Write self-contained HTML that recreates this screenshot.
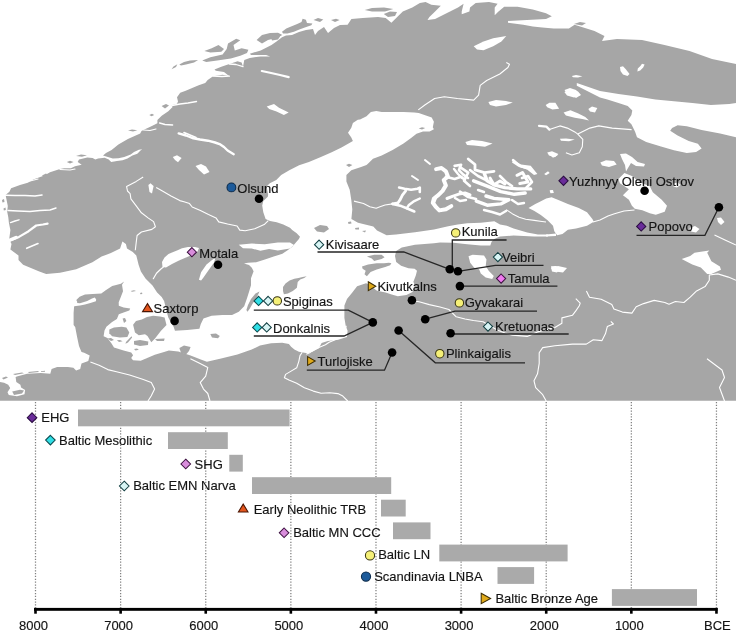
<!DOCTYPE html><html><head><meta charset="utf-8"><style>html,body{margin:0;padding:0;background:#fff;}body{width:736px;height:630px;overflow:hidden;}svg{display:block;font-family:"Liberation Sans",Arial,sans-serif;}</style></head><body>
<svg width="736" height="630" viewBox="0 0 736 630">
<rect x="0" y="0" width="736" height="400.75" fill="#a6a6a6"/>
<polygon points="0,0 736,0 736,64 712,59 689.5,51 664.5,45 642,40 617,39 602,41 604.5,36 594.5,31 574.6,24.7 568.9,28.5 553.7,28.5 542.3,27.6 532.8,26.6 523.3,24.7 508,22.8 508,20.9 527,20 546,19 551.8,16.2 546,13.3 532.8,9.5 517.6,6.7 504.2,6.7 498.5,11.4 494.7,15.2 494.7,7.6 497.6,3.8 489,1.9 475.7,2.9 470,7.6 469.4,11.4 461.7,14.3 461.7,11.4 463.6,3.8 458,7.6 446.5,13.3 435.1,19 427.5,20 429.4,17.1 435.1,11.4 440.8,5.7 431.3,4.8 425.6,1.9 419.9,2.9 412.3,7.6 402.8,11.4 395.2,19 391.4,22.8 385.7,18 378,17 362.8,18 351.4,19 347.6,24.7 340,25 334,28 328,33 324,27 318,31 315,35 313,29 306,30 299,32 292,35 286,35.5 282,37.2 276.5,41.5 271.5,44.9 260.7,50.4 249.8,53.8 251.1,55.1 266.1,55.1 270.2,56.5 260.7,56.5 249.8,57.9 244.3,59.9 243,66.7 241.6,62.6 237.6,61.3 229.4,64 221.3,66.7 214.5,69.4 215.8,70.8 224,72.1 229.4,76.2 222.6,74.8 213.1,76.2 207.7,80 205.2,83 198.7,85.2 191,88.5 185.7,90.7 180.2,92.8 177,97.2 178,101.5 177,103.7 171.5,105.3 172.6,107 168.3,111.3 161.7,115.7 157.4,120 157.4,123.3 150.9,126.5 143.3,130 141.5,130.9 140.2,133.6 127.9,139 118.4,144.5 111.6,149.9 106,153 103,155.4 107.9,157 112.8,158.6 118.5,158.2 124.2,157 130.7,154.6 134,152.1 138.9,149.7 142.2,149.3 140.5,150.5 137.3,153.7 132.4,155.4 127.5,158.6 122.6,160.3 116.9,161.1 111.2,161.9 108.7,159.4 104.7,157.8 98.1,158.6 95.3,159.4 92.6,158 87.2,157.4 79,159.4 77.7,162.1 81.7,164.8 75,166.2 70.9,168.2 64.1,168.2 60,168.9 50,172.2 44.4,175.6 33.3,179.4 27.8,182.8 20,185 11.1,188.3 9.4,191.7 5.6,195 6.7,200.6 7.8,206.1 7.2,211.7 8.3,217.2 8.9,222.8 10,228.3 10.4,230 9.2,239.2 11.5,243.9 10.4,249.6 18.5,255.4 18.5,260 23.1,264.7 39.3,271.6 46.2,273.9 60,272.7 76.2,269.3 92.4,262.3 101.6,256.6 110.9,253.1 120.1,248.5 122.4,241.5 125.9,243.9 127,248.5 132.8,251.9 136.3,255.4 138.6,264.7 140.9,271.6 145.5,278.5 152.5,285.4 157.1,292.4 161.7,297 164.1,300.9 168.2,317.2 170.9,322.6 173.6,326.7 175,330.8 187.2,330.1 199.4,328.7 200.8,324 203.5,318.5 211.6,315.8 222.5,315.1 232,315.1 238.8,311.7 244.2,306.3 247,298.2 249.2,291.3 251,285.2 251,278.2 253.6,271.2 251.8,267.7 249,265 244,263.5 248,262.8 256.2,262.3 264.9,259.5 273.7,256.6 282.4,253.8 287.6,250.2 292.2,246.7 298.9,238.9 300,236.7 296.7,233.3 292.2,230 290,227.8 283.3,224.4 276.7,222.2 270,221.1 265.6,218.9 263.3,212.2 262.2,205.6 263.3,201.1 267.8,196.7 268.2,194.7 266.5,186.5 269.8,183.3 276.3,180 281.2,175.1 289.3,170.2 299.1,165.3 308.9,162.1 320.3,157.2 331.7,152.3 341.5,147.4 352.9,140.9 351.3,137.6 348,132.7 351.3,127.8 352.9,122.9 357.8,119.7 360,119.6 366.5,116.3 370.9,112 376.3,110.9 381.7,112 392.6,112 403.5,112 414.3,112.5 418.7,113 425.2,115.2 431.7,117.4 433.9,121.7 432.8,127.2 433.9,129.3 429.6,131.5 423,131.5 416.5,133.7 411.1,138 403.5,143.5 392.6,150 381.7,155.4 373,158.7 368.7,163 366.5,165 361.1,167 351.3,170.2 346.4,175.1 346.4,181.6 349.7,189.8 351.3,200 352.3,209.5 351.4,219 358,222.8 373.3,226.6 377,230.4 386.6,235.2 396,234.4 415,232.3 434,229.4 448.2,226.3 457.7,224.6 467.2,223.3 480.8,222.7 494.3,221.3 500,224.4 506.8,225.8 513.6,228.5 527.2,232.6 538,234.4 548,234.6 548,236.4 534,236.5 513.6,235.5 500,236.6 494.3,239 491.6,241.7 490.3,245.5 480.8,245.5 467.2,244.3 453.6,242.8 440,242.6 434,243.2 415,244.7 401.8,247.6 396.2,251.1 395,256 396.2,262.1 401.1,265.8 408.5,268.2 414.6,268.8 417,270.7 415.8,275.6 413.4,281.7 415,285.9 412.5,292 406.4,295 397.8,296.3 391.7,294.5 385.6,292.6 377,290.8 368,284 366,283.2 357.1,286.3 352.1,292.7 347,299 344.4,305.4 344.4,318.1 345.7,325.7 347.6,330.8 347,337.1 338.1,339.7 327.9,341 321.6,343 318.9,348.3 312.2,351.7 307.8,353.3 304.4,352.8 298.9,351.7 294.4,349.4 291.1,346.7 288.9,343.9 282.2,342.8 271.1,343.3 260,345.6 251.7,349.5 237.4,354.5 221.1,358.6 206.9,361.7 200.8,359.6 190.6,355.6 178.3,351.5 168.9,350.4 162.4,352.6 154.8,354.8 147.2,358 140.7,360.8 133,360.2 131.2,358 133.1,355.2 131.2,352.4 123.6,350.5 114,347.6 111.2,342.9 107.4,338.1 103.6,336.2 104.5,330.5 106.4,326.7 112.1,321.9 116.9,319 118.8,314.3 123.6,312.4 129.3,310.5 130.2,308.6 123.6,307.6 118.8,305.7 118.7,302.2 120.9,296.7 123,291.3 122,284.8 124.1,281.5 120.9,283.7 112.2,285.9 105.7,290.2 101.3,293.5 92.6,294 85,294.6 79.6,296.7 76.3,300 77.4,302.2 74.1,306.5 73.6,313 73.6,325 75.2,327 77,336.6 79,346 81.5,352 84.2,352.7 89.7,355.4 88.3,360.9 81.5,363.6 80.2,369 76.1,370.4 73.4,367.7 67.9,367 57.1,367 51.6,369 50.3,373.8 40.8,373.1 27.2,373.8 17.7,376.3 15.6,377 16.3,382 20.4,384.7 21.1,387.4 25.1,390.1 24.5,394.2 17,396.2 8.8,394.9 7.5,392.2 10.2,388.1 8.2,384.7 4.1,382.7 0,382" fill="#fff"/>
<polygon points="736,103.1 729.3,104 710.9,104.9 692.4,103.1 673.9,101.2 655.4,99.4 637,96.6 618.5,93.9 600,91.1 576.8,83.1 576.8,85.8 600,97.6 607.4,99.4 618.5,103.1 627.7,105.9 632.3,110.5 631.4,115.1 627.7,120.7 631.4,124.3 635.1,131.7 637,137.3 646.2,141.9 661,146.5 673.9,150.2 686.8,153 696.1,152.1 701.6,148.4 697.9,143.7 688.7,141 677.6,135.4 670.2,130.8 672.1,128 677.6,125.3 686.8,126.2 701.6,129.9 720.1,133.6 736,137.3" fill="#fff"/>
<polygon points="109.3,329.5 114,327.6 121.7,326.7 126.4,327.6 129.3,332.4 127.4,337.1 119.8,337.6 112.1,336.2 109.3,333.3" fill="#a6a6a6"/>
<polygon points="122.6,318.5 125,318 126.4,321 124,322.9" fill="#a6a6a6"/>
<polygon points="107.4,338.6 111,338.1 114,340 111,341" fill="#a6a6a6"/>
<polygon points="116.9,340.3 120,340 122.6,341.2 119,341.9" fill="#a6a6a6"/>
<polygon points="131.5,336.2 132.1,337.5 128,342.5 125.5,343.8 126,342" fill="#a6a6a6"/>
<polygon points="134,349 137,348.6 138.8,349.8 135.5,350.5" fill="#a6a6a6"/>
<polygon points="133.1,324.8 136,321 141.8,319.5 147,317 153.2,315.7 160,316.5 164.6,317.6 166.5,325 160.8,331 155,338.5 151.3,342.3 147.5,336 145,334.3 138.8,335.2 135,332.4" fill="#a6a6a6"/>
<polygon points="134,341 140,340 148.3,341.5 148,345 140,346 134,344.5" fill="#a6a6a6"/>
<polygon points="155,339 164.6,338.5 164,341 157,341" fill="#a6a6a6"/>
<polygon points="210.3,334 216,333.5 219.8,336 218,338.2 212,337.5" fill="#a6a6a6"/>
<polygon points="283,286.9 285.5,283.6 289.6,280.4 294.4,278.7 298.5,277.9 302.6,277.1 306.7,276.3 304.2,277.9 300.2,279.6 297.7,282 296.9,287.7 292.8,291 287.9,293.4 283.9,294.2 283,291" fill="#a6a6a6"/>
<polygon points="259.5,291.5 257,297 253,303 249.5,309 247.5,311.7 246.4,310 248,305 251,299 255.5,293.5" fill="#a6a6a6"/>
<polygon points="362,266.4 368.1,264.6 376.7,263.3 384,263.3 388.9,262.7 391.4,263.3 390.1,265.2 385.2,267 376.7,269.5 370.6,271.9 366.9,276.2 364.5,274.3 365.7,270.7 362.6,268.8" fill="#a6a6a6"/>
<polygon points="366.9,256.6 374.2,254.8 381.6,254.8 384.6,257.2 381.6,259.1 376.7,260.3 374.2,260.9 371.8,258.5" fill="#a6a6a6"/>
<polygon points="179.4,348 184,345.4 190.6,347 189,351 186,354.5 181,353" fill="#a6a6a6"/>
<polygon points="314,228 320,225 327,226 329,229 324,232.5 317,231.5" fill="#a6a6a6"/>
<polygon points="12.2,391.5 20,389.8 24,390.5 22,393.5 14,395" fill="#a6a6a6"/>
<polygon points="130.7,291 134,290.2 136,291 132,291.8" fill="#a6a6a6"/>
<polygon points="162,262 164.5,257.5 168.5,254 172,252.5 177,250.5 182,248.3 188,247 195,247 199,248 197.5,251.5 193,254.5 186,257.5 179,260.5 172,264 166,267.5 162.5,267" fill="#fff"/>
<polygon points="198.9,279.8 201.1,272.2 206.5,264.6 213,259.2 215.2,258.6 214.1,262.4 208.7,270 203.3,277.7 201.1,280.4" fill="#fff"/>
<polygon points="238.7,244.8 251.7,243.5 264.8,244.3 277.8,242.4 290,242.4 294,245 290,248.6 277.8,250.5 269.1,249 260.4,250.8 251.7,248.5 243,248.3" fill="#fff"/>
<polygon points="528.5,208.1 535.3,204 539.4,202 546.2,198.6 551.6,197.2 558.4,200 567.9,204 578.8,208.1 587,212.2 592.4,219 593.8,221.7 587,225.8 576.1,228.5 567.9,229.8 562.5,233.9 557.1,235.3 554.3,231.2 553,225.8 547.6,220.3 540.8,214.9 534,210.8" fill="#fff"/>
<polygon points="546,234.6 556,233.5 556,236 546,236.4" fill="#fff"/>
<polygon points="624.4,172.9 631.9,175.9 639.3,181.9 649.8,186.3 652.8,192.3 661.7,199.8 667,205.8 664.7,211.7 655.8,214.7 649.8,213.2 642.3,210.3 634.8,208.8 631.9,205.8 628.9,199.8 622.9,195.3 625.9,192.3 628.9,189.3 619.9,183.3 618.4,178.9" fill="#fff"/>
<polygon points="468.5,256.3 472.6,254.7 484,255.5 486.5,259.6 485.7,266.1 488.9,271 493.8,275.9 492.2,279.1 485.7,277.5 480.8,273.4 479.1,269.3 474.2,267.7 470.2,262.8" fill="#fff"/>
<polygon points="473.7,46.3 483.5,41.4 493.2,38.2 506.3,35.9 501.4,41.4 493.2,46.3 483.5,50.2 477,49.6" fill="#fff"/>
<polygon points="202.2,60.6 210.4,57.2 222.6,54.5 226.7,49 228,43.6 236.2,38.8 240.3,40.2 233.5,45 234.8,50.4 241.6,48.3 248.4,49.7 247,53.1 240.3,55.8 230.8,58.5 217.2,60.6 206.3,62" fill="#a6a6a6"/>
<polygon points="204.3,51.1 211.7,48.3 218.5,45 224,49 221.3,51.7 210.4,52.4" fill="#a6a6a6"/>
<polygon points="171.6,69.2 173.5,66.5 177.3,64.3 176,67" fill="#a6a6a6"/>
<polygon points="179.3,64.5 184,62 190,60.5 198.1,60 194,62.5 186,64.5 181,65.5" fill="#a6a6a6"/>
<polygon points="256.6,40 262,35 270,33 278,32.7 282.4,35 276,38 268,40 262,43.6" fill="#a6a6a6"/>
<polygon points="282,31.7 286.3,28.5 291.7,26.3 297.2,24.1 301.5,22 302.6,18.7 305.9,19.8 307,23 312.4,23.6 311.3,25.2 304.8,27.4 299.3,29.6 293.9,31.7 287.4,33.4 283,33.4" fill="#a6a6a6"/>
<polygon points="313.5,20 318,18 323.3,19.5 320,22" fill="#a6a6a6"/>
<polygon points="331,20 336,18.7 339.6,20 335,22" fill="#a6a6a6"/>
<polygon points="364.7,10 372,8 384,7.6 393.3,9 385,11.4 372,11.4" fill="#a6a6a6"/>
<polygon points="383.8,14 390,11.5 397,12 395,16 388,17" fill="#a6a6a6"/>
<polygon points="270,35 276,33 281,35 278,39.5 272,40.4" fill="#a6a6a6"/>
<polygon points="574,24 580,22 586,23 582,25.5" fill="#a6a6a6"/>
<polygon points="161.6,106 166,104 169,105.5 165,108.5" fill="#a6a6a6"/>
<polygon points="149.3,115 152,113.8 154.2,115 151.5,116.2" fill="#a6a6a6"/>
<polygon points="128,130.5 132,129.5 137.4,130.3 133,131.5" fill="#a6a6a6"/>
<polygon points="76,156 81,154.6 87,155.2 82,156.7" fill="#a6a6a6"/>
<polygon points="66.8,162 70,160.8 73.6,162 70,163.5" fill="#a6a6a6"/>
<polygon points="42,175.5 46,173.5 48,175 44,177" fill="#a6a6a6"/>
<polygon points="3.5,208.5 5.5,207.5 5.8,210 3.8,210.5" fill="#a6a6a6"/>
<polygon points="2,200 4,199 4.5,202 2.5,202.5" fill="#a6a6a6"/>
<polygon points="2,378 6,376.5 8,377.5 3.5,379.5" fill="#a6a6a6"/>
<polygon points="13,374 22,372.5 24,373.3 15,375" fill="#a6a6a6"/>
<polygon points="28,372 38,371 39,372 29,373" fill="#a6a6a6"/>
<polygon points="41,371.3 45,370.8 45,371.8 41,372" fill="#a6a6a6"/>
<polygon points="346,165 349,163.8 352.4,165 349,167" fill="#a6a6a6"/>
<polygon points="348,222 351,221.5 351.5,223.5 348.5,224" fill="#a6a6a6"/>
<polygon points="355,228 359,227.5 359,229.5 355.5,229.5" fill="#a6a6a6"/>
<polygon points="362,231 366,230.5 365,232.5" fill="#a6a6a6"/>
<polygon points="418.7,128.5 422,127.2 425.2,128 422,129.5" fill="#a6a6a6"/>
<polygon points="140,293 142,292.5 142.3,294 140.5,294.2" fill="#a6a6a6"/>
<polygon points="74,302.8 80,303.3 87.2,301.1 92,298.5 94.8,297.6 96.2,299.5 95.9,301.3 90.4,302.9 85,304.5 80,305.4 74,306.2" fill="#fff"/>
<polygon points="266.7,106.5 274,104 279,107.7 288.7,112.6 283.9,115 276.5,111.4 269.2,108.9" fill="#fff"/>
<polygon points="172.8,157 177,155.2 181.6,158 178,162.2 175,160" fill="#fff"/>
<polygon points="195.5,166 201,164 206,166.5 209.5,172 204,174.4 199,170" fill="#fff"/>
<polygon points="148.4,185 150.5,183.2 153.6,186 152,193.6 149.5,192" fill="#fff"/>
<polygon points="545.7,105 549.4,102.7 555.4,102.7 559.1,108.7 552.4,109.4 547.2,107.2" fill="#fff"/>
<polygon points="563.6,112.4 570.4,110.2 577.8,113.2 585.3,116.9 589,120.6 582.3,119.1 574.8,117.7 565.9,115.4" fill="#fff"/>
<polygon points="588.3,109 592,106.4 597.3,108 595,112.4 590,111.5" fill="#fff"/>
<polygon points="564.4,92 570,90 578,91.5 580.8,95 574,97.5 567,95.5" fill="#fff"/>
<polygon points="547.2,152.5 552,151.3 558.4,154 555,157.3 549,155.5" fill="#fff"/>
<polygon points="600.3,162.5 606,160.3 614,161 616.7,164.5 609,167 602,165.5" fill="#fff"/>
<polygon points="513,160.4 521.1,164.5 530.7,165.8 537.4,174 534,175 527,169.5 518,166.5 512,162.5" fill="#fff"/>
<polygon points="544.2,174 548,171.3 549.7,173 546,175.3" fill="#fff"/>
<polygon points="465.4,142 472,140 482,141 492.6,143.5 485,146.8 474,145.5 467,145" fill="#fff"/>
<polygon points="548.3,153.5 552,152.2 557.8,155 553,157.7" fill="#fff"/>
<polygon points="549.7,191 552,190.3 553.7,192.5 551,193" fill="#fff"/>
<polygon points="559.9,138.8 566,138.5 574.8,139.6 569,141.2 561,140.8" fill="#fff"/>
<polygon points="488.4,102 496,100.1 506,101 512.8,102.5 506,105 496,106.6 490,105" fill="#fff"/>
<polygon points="673,183.5 678,182.5 680.5,185 677,187.5 673.5,186.5" fill="#fff"/>
<polygon points="620,67 623,66.3 626,69.5 629.5,74 627.5,76 623,74.5 620.5,71" fill="#fff"/>
<polygon points="642,63.8 644.6,64.4 643.2,67.5 640.2,70.6 637.4,71.4 637.8,68.6 640.4,66" fill="#fff"/>
<polygon points="571.8,76 576,75.1 582.4,76.3 578,77.5 573,77.3" fill="#fff"/>
<polygon points="564.5,90 570,88.1 576,90 580.8,95 576,97.9 570,94 566,92.5" fill="#fff"/>
<polygon points="620,154 626,153.5 632,157 637.6,162 645,164 644,166.5 636,166 631,163 628,168 626,171.4 625,165 622,159" fill="#fff"/>
<polygon points="681.7,259.1 686,261.2 692.3,264.4 700.8,267.6 707.2,273.9 711.4,273.9 721,269.7 719.9,266.5 711.4,261.2 707.2,252.7 709.3,250.6 700.8,251.7 694.5,252.7 690.2,255.9" fill="#fff"/>
<polygon points="552,268 558,266 567,268 563,272.5 555,271.5" fill="#fff"/>
<polygon points="717,218 721,217.5 724.5,222 721,225 718,222" fill="#fff"/>
<polygon points="689.5,228 695,226 699.5,229 696,232.5 691,231.5" fill="#fff"/>
<polygon points="551,268 555,266.5 560,267.5 559,271 553,271" fill="#fff"/>
<polygon points="549.7,190.3 553,190 553.7,193 550.5,193.2" fill="#fff"/>
<polygon points="551,266.3 556,266 560,268 557,272.6 552,271.5" fill="#fff"/>
<polyline points="261.8,71 270,72.8 280,75 288.7,77.1" fill="none" stroke="#fff" stroke-width="2.2" stroke-linejoin="round" stroke-linecap="round"/>
<polyline points="178.7,133.4 186,135.5 193.4,138.3 200,139.5 208,140.7 215,142.5 220.3,144.4 224,147 227.6,150.5 233.7,154.2" fill="none" stroke="#fff" stroke-width="2.4" stroke-linejoin="round" stroke-linecap="round"/>
<polyline points="184,132.5 190,135 196,137.5" fill="none" stroke="#fff" stroke-width="1.6" stroke-linejoin="round" stroke-linecap="round"/>
<polyline points="5.6,195.3 15,195.5 25,195.5 35,196 42,195" fill="none" stroke="#fff" stroke-width="1.6" stroke-linejoin="round" stroke-linecap="round"/>
<polyline points="8,210.5 18,211 30,211.5 40,210.5 50,210 56,208" fill="none" stroke="#fff" stroke-width="1.4" stroke-linejoin="round" stroke-linecap="round"/>
<polyline points="10.5,222.6 15,221 19,219.8" fill="none" stroke="#fff" stroke-width="1.4" stroke-linejoin="round" stroke-linecap="round"/>
<polyline points="9.5,240.7 19,236.9 28.6,231.2 36.2,225.5 42.9,224.5 47.6,223.6" fill="none" stroke="#fff" stroke-width="2.2" stroke-linejoin="round" stroke-linecap="round"/>
<polyline points="10,240 16,237.5" fill="none" stroke="#fff" stroke-width="3.5" stroke-linejoin="round" stroke-linecap="round"/>
<polyline points="26.7,248.3 32,246 38,243.6" fill="none" stroke="#fff" stroke-width="1.6" stroke-linejoin="round" stroke-linecap="round"/>
<polyline points="172,105.5 180,104 188,103 196.5,101.5" fill="none" stroke="#fff" stroke-width="1.4" stroke-linejoin="round" stroke-linecap="round"/>
<polyline points="159.6,123 165,124.5 172.6,125" fill="none" stroke="#fff" stroke-width="1.4" stroke-linejoin="round" stroke-linecap="round"/>
<polyline points="22,180.5 30,181 38,179" fill="none" stroke="#fff" stroke-width="1.2" stroke-linejoin="round" stroke-linecap="round"/>
<polyline points="60,169.5 70,170 75,169" fill="none" stroke="#fff" stroke-width="1.2" stroke-linejoin="round" stroke-linecap="round"/>
<polyline points="229.4,64 236,64.5 243,66.7" fill="none" stroke="#fff" stroke-width="1.3" stroke-linejoin="round" stroke-linecap="round"/>
<polyline points="213.1,76.2 222,76.5 229.4,76.2" fill="none" stroke="#fff" stroke-width="1.3" stroke-linejoin="round" stroke-linecap="round"/>
<polyline points="143.3,130 150,130.5 156,129" fill="none" stroke="#fff" stroke-width="1.2" stroke-linejoin="round" stroke-linecap="round"/>
<polyline points="166.3,264.6 160.9,269 156.5,273.3 153.3,278.7" fill="none" stroke="#fff" stroke-width="1.2" stroke-linejoin="round" stroke-linecap="round"/>
<polyline points="399.1,187.6 404.6,188.7 411.1,189.8 417.6,188.7 419.8,187.6 419.8,192" fill="none" stroke="#fff" stroke-width="2.6" stroke-linejoin="round" stroke-linecap="round"/>
<polyline points="405.7,190.9 402.4,195.2 400.2,199.6 398,202.8 392.6,203.9" fill="none" stroke="#fff" stroke-width="2.8" stroke-linejoin="round" stroke-linecap="round"/>
<polyline points="392.6,203.9 401.3,206.1 406.7,208.3 414.3,211.5" fill="none" stroke="#fff" stroke-width="2.6" stroke-linejoin="round" stroke-linecap="round"/>
<polyline points="419.8,198.5 413.3,201.7 408.9,205 406.7,208.3" fill="none" stroke="#fff" stroke-width="2.4" stroke-linejoin="round" stroke-linecap="round"/>
<polyline points="436.1,169.1 441.5,168 445.9,171.3 448,176.7 443.7,180 445.9,185.4 442.6,190.9 438.3,195.2 433.9,198.5 432.8,202.8 436.1,207.2 439.3,210.4 445.9,209.3 451.3,206.1" fill="none" stroke="#fff" stroke-width="4.0" stroke-linejoin="round" stroke-linecap="round"/>
<polyline points="436,197 434,202" fill="none" stroke="#fff" stroke-width="3.0" stroke-linejoin="round" stroke-linecap="round"/>
<polyline points="445.9,176.7 454.6,178.9 461.1,176.7 465,180" fill="none" stroke="#fff" stroke-width="2.6" stroke-linejoin="round" stroke-linecap="round"/>
<polyline points="454.6,165.9 461.1,164.8 458.9,170.2 463.3,174.6 468,178" fill="none" stroke="#fff" stroke-width="2.6" stroke-linejoin="round" stroke-linecap="round"/>
<polyline points="447,198.5 452.4,196.3 458.9,194.1 465,193 470,195" fill="none" stroke="#fff" stroke-width="3.0" stroke-linejoin="round" stroke-linecap="round"/>
<polyline points="468.2,159 475,164.5 475,169.9 484.5,172.6 494,171.3" fill="none" stroke="#fff" stroke-width="2.8" stroke-linejoin="round" stroke-linecap="round"/>
<polyline points="484.5,174 487.2,180.8 494,184.8 504.8,187.6 517,188.9 530.7,188.9" fill="none" stroke="#fff" stroke-width="3.4" stroke-linejoin="round" stroke-linecap="round"/>
<polyline points="473.6,180.8 487.2,186.2 500.8,191.6 514.3,194.3 525.2,193" fill="none" stroke="#fff" stroke-width="3.4" stroke-linejoin="round" stroke-linecap="round"/>
<polyline points="490,178 494,184.8 500,181 505,184" fill="none" stroke="#fff" stroke-width="3.0" stroke-linejoin="round" stroke-linecap="round"/>
<polyline points="517,175.3 522.5,172.6 528,182.1 519.8,183.5" fill="none" stroke="#fff" stroke-width="3.0" stroke-linejoin="round" stroke-linecap="round"/>
<polyline points="476.3,201.1 487.2,205.2 500.8,203.9 508.9,199.8 494,198.4 486,196" fill="none" stroke="#fff" stroke-width="3.4" stroke-linejoin="round" stroke-linecap="round"/>
<polyline points="460,191.6 468.2,197.1 476,199" fill="none" stroke="#fff" stroke-width="2.6" stroke-linejoin="round" stroke-linecap="round"/>
<polyline points="460,167.2 468.2,172.6 464,180.8 470,186" fill="none" stroke="#fff" stroke-width="2.6" stroke-linejoin="round" stroke-linecap="round"/>
<polyline points="484,210 492,212 500,214.5 506,211" fill="none" stroke="#fff" stroke-width="2.4" stroke-linejoin="round" stroke-linecap="round"/>
<polyline points="478,190 484,192" fill="none" stroke="#fff" stroke-width="2.4" stroke-linejoin="round" stroke-linecap="round"/>
<polyline points="512,200 518,204 524,203" fill="none" stroke="#fff" stroke-width="2.4" stroke-linejoin="round" stroke-linecap="round"/>
<polyline points="425,160 430,164" fill="none" stroke="#fff" stroke-width="2.0" stroke-linejoin="round" stroke-linecap="round"/>
<polyline points="412,176 418,180" fill="none" stroke="#fff" stroke-width="2.0" stroke-linejoin="round" stroke-linecap="round"/>
<polyline points="470,170 478,176 486,180" fill="none" stroke="#fff" stroke-width="2.6" stroke-linejoin="round" stroke-linecap="round"/>
<polyline points="500,176 506,182 512,186" fill="none" stroke="#fff" stroke-width="2.6" stroke-linejoin="round" stroke-linecap="round"/>
<polyline points="522,178 528,176 532,182 526,188" fill="none" stroke="#fff" stroke-width="2.6" stroke-linejoin="round" stroke-linecap="round"/>
<polyline points="455,198 460,201 466,200" fill="none" stroke="#fff" stroke-width="2.4" stroke-linejoin="round" stroke-linecap="round"/>
<polyline points="454,169 458,174 462,178" fill="none" stroke="#fff" stroke-width="2.4" stroke-linejoin="round" stroke-linecap="round"/>
<polyline points="513,160 520,166 527,168" fill="none" stroke="#fff" stroke-width="2.4" stroke-linejoin="round" stroke-linecap="round"/>
<polyline points="539,125.9 546.4,126.6 549.4,129.6" fill="none" stroke="#fff" stroke-width="2.2" stroke-linejoin="round" stroke-linecap="round"/>
<polyline points="418.3,109.9 424.8,105 434.6,98.5 444.3,96.8 457.4,98.5 473.7,100.1 478.6,95.2 480.2,85.4 486.7,80.5 499.8,74 507.9,67.5 509.5,64.2 506.3,62.6" fill="none" stroke="#fff" stroke-width="1.1" stroke-linejoin="round"/>
<polyline points="143.2,177 136.2,181.4 126.6,186.6 127.5,191 130.1,193.6 130.9,198.9 136.2,205.8 141.4,212.8 148.4,218.1 153.6,221.6 155.4,226.8 151.9,229.4 141.4,232 137.1,235.5 136.2,242.5 135.3,250.3" fill="none" stroke="#fff" stroke-width="1.1" stroke-linejoin="round"/>
<polyline points="156.2,187.5 162.4,191 171,196 179.8,200.6 184,201.8 189.5,203.6 192.2,207 200.4,210.4 208.5,214.5 216,217.9 218.7,221.9 227.6,224 237.1,226 239.8,230.1 245.2,230.8 254.7,228.7 264.2,224.6 268.3,220.6" fill="none" stroke="#fff" stroke-width="1.1" stroke-linejoin="round"/>
<polyline points="354,201.1 363.5,203.5 369.8,206.7 376.2,208.3 380,206.7 385,205 392.6,203.9" fill="none" stroke="#fff" stroke-width="1.1" stroke-linejoin="round"/>
<polyline points="506.1,209.6 512.6,213.9 519.1,217.2 525.7,219.3 534.3,220.4 542,221.5 546,222" fill="none" stroke="#fff" stroke-width="1.1" stroke-linejoin="round"/>
<polyline points="549.4,129.6 559.9,125.9 567.4,128.1 574.8,131.9 577.8,134.1 589.8,128.1 598.8,125.9 612.2,128.1 631.6,129.6" fill="none" stroke="#fff" stroke-width="1.1" stroke-linejoin="round"/>
<polyline points="577.8,134.1 582.8,139.3 582.3,146.8 579.3,152.8 571.9,155 565.9,152.8" fill="none" stroke="#fff" stroke-width="1.1" stroke-linejoin="round"/>
<polyline points="593,222 600,220 608,216 614.5,213.75 624,211 634.5,210" fill="none" stroke="#fff" stroke-width="1.1" stroke-linejoin="round"/>
<polyline points="346.3,325.7 344.4,330.8 338.1,338.4 329.2,342.2 325.4,344.8 316.5,348.6 310.2,352.4 306.3,354.3" fill="none" stroke="#fff" stroke-width="1.1" stroke-linejoin="round"/>
<polyline points="90.4,362 99.1,365.2 107.8,369.6 116.5,371.7 129.6,375 142.6,379.3 151.3,382.6 154.6,389.1 151.3,395.7 148,401" fill="none" stroke="#fff" stroke-width="1.1" stroke-linejoin="round"/>
<polyline points="190.4,358.7 199.1,363 207.8,367.4 205.7,376.1 200.2,382.6 203.5,389.1 207.8,393.5 210,401" fill="none" stroke="#fff" stroke-width="1.1" stroke-linejoin="round"/>
<polyline points="302.2,352.2 300,355.6 298.9,361.1 296.7,367.8 291.1,371.1 285.6,374.4 284.4,377.8 288.9,380 296.7,383.3 304.4,387.8 313.3,391.1 321.1,393.3 329.8,392.8 337.9,393.6 342.8,396.1 347.7,401" fill="none" stroke="#fff" stroke-width="1.1" stroke-linejoin="round"/>
<polyline points="412.2,300.2 420,302 429.3,304.6 440,307 448.9,309.5 456.2,316.8 465,319 473.4,320.5 483.1,321.7 490,326 497.8,330.2 505,333 512.5,335.1 527.2,336.4 537.5,331.9 554.9,327.5 561.9,323.2 561.9,317.9 572.4,315.3 575.8,310.9 579.3,305.7 580.2,303.1 575.8,298.7" fill="none" stroke="#fff" stroke-width="1.1" stroke-linejoin="round"/>
<polyline points="610.8,321.4 613.4,324 607.3,326.6 605.5,333.6 602,340.6 593.3,339.7 586.3,344.1 572.4,344.1 554.9,345.8 542.7,347.6 539.2,352.8 539.2,363.3 537.5,373.8 534,380.8 535.7,387.7 542.7,394.7 546.2,401" fill="none" stroke="#fff" stroke-width="1.1" stroke-linejoin="round"/>
<polyline points="586.4,290.9 589.5,297.2 601.2,299.3 611.8,304.6 613.9,308.9 622.4,312.1 631.9,313.1 636.2,306.8 643.6,303.6 654.2,300.4 664.8,302.5 669,304.2 675.4,301.5 683.9,302.5 690.2,297.2 696.6,290.9 705.1,286.6 709.3,280.3 709.3,275 717.8,273.9 728.4,277.1 736,280.3" fill="none" stroke="#fff" stroke-width="1.1" stroke-linejoin="round"/>
<polyline points="707,358.75 722,370 724.5,377.5 719.5,387.5 724.5,401" fill="none" stroke="#fff" stroke-width="1.1" stroke-linejoin="round"/>
<polyline points="714.5,235 725,240 736,245" fill="none" stroke="#fff" stroke-width="1.1" stroke-linejoin="round"/>
<polyline points="253.8,310.1 348.3,310.1 372.8,322.4" fill="none" stroke="#262626" stroke-width="1.3"/>
<polyline points="253.8,336 344,336 372.8,322.4" fill="none" stroke="#262626" stroke-width="1.3"/>
<polyline points="317.5,252 403.8,252 449.8,269.3" fill="none" stroke="#262626" stroke-width="1.3"/>
<polyline points="506.6,240 452.3,240 452.3,268" fill="none" stroke="#262626" stroke-width="1.3"/>
<polyline points="543.5,265.3 495.4,265.3 457.9,271.3" fill="none" stroke="#262626" stroke-width="1.3"/>
<polyline points="459.9,286.1 557.4,286.1" fill="none" stroke="#262626" stroke-width="1.3"/>
<polyline points="537,311.2 455,311.2 425.2,319.2" fill="none" stroke="#262626" stroke-width="1.3"/>
<polyline points="450.6,334 568.7,334" fill="none" stroke="#262626" stroke-width="1.3"/>
<polyline points="398.6,330.5 435.3,362.8 525,362.8" fill="none" stroke="#262626" stroke-width="1.3"/>
<polyline points="306.8,370.2 384.5,370.2 392.1,352.5" fill="none" stroke="#262626" stroke-width="1.3"/>
<polyline points="636.5,235.3 704.9,235.3 718.9,207.2" fill="none" stroke="#262626" stroke-width="1.3"/>
<circle cx="259" cy="198.8" r="4.3" fill="#000"/>
<circle cx="218" cy="264.7" r="4.3" fill="#000"/>
<circle cx="174.6" cy="320.9" r="4.3" fill="#000"/>
<circle cx="372.8" cy="322.4" r="4.3" fill="#000"/>
<circle cx="449.8" cy="269.3" r="4.3" fill="#000"/>
<circle cx="457.9" cy="271.3" r="4.3" fill="#000"/>
<circle cx="459.9" cy="286.1" r="4.3" fill="#000"/>
<circle cx="411.9" cy="300.2" r="4.3" fill="#000"/>
<circle cx="425.2" cy="319.2" r="4.3" fill="#000"/>
<circle cx="450.6" cy="333.3" r="4.3" fill="#000"/>
<circle cx="398.6" cy="330.5" r="4.3" fill="#000"/>
<circle cx="392.1" cy="352.5" r="4.3" fill="#000"/>
<circle cx="644.6" cy="190.7" r="4.3" fill="#000"/>
<circle cx="718.9" cy="207.2" r="4.3" fill="#000"/>
<circle cx="231.4" cy="187.4" r="4.4" fill="#1c5a9a" stroke="#0b2a4a" stroke-width="1.05"/>
<text x="237.30" y="192.60" font-size="13" fill="#141414" stroke="#141414" stroke-width="0.15">Olsund</text>
<polygon points="191.9,247.6 196.5,252.2 191.9,256.8 187.3,252.2" fill="#d98ddc" stroke="#3e1242" stroke-width="1.05"/>
<text x="199.20" y="257.90" font-size="13" fill="#141414" stroke="#141414" stroke-width="0.15">Motala</text>
<polygon points="147.5,303.6 152.5,311.6 142.5,311.6" fill="#e4561e" stroke="#4a1604" stroke-width="1.05"/>
<text x="153.60" y="312.60" font-size="13" fill="#141414" stroke="#141414" stroke-width="0.15">Saxtorp</text>
<polygon points="258.6,296.29999999999995 263.20000000000005,300.9 258.6,305.5 254.00000000000003,300.9" fill="#30dfe6" stroke="#0b4a4e" stroke-width="1.05"/>
<polygon points="268.1,296.29999999999995 272.70000000000005,300.9 268.1,305.5 263.5,300.9" fill="#d8f5f5" stroke="#123f42" stroke-width="1.05"/>
<circle cx="277.3" cy="300.9" r="4.2" fill="#f5f077" stroke="#3a3712" stroke-width="1.05"/>
<text x="282.90" y="305.90" font-size="13" fill="#141414" stroke="#141414" stroke-width="0.15">Spiginas</text>
<polygon points="257.2,322.79999999999995 261.8,327.4 257.2,332.0 252.6,327.4" fill="#30dfe6" stroke="#0b4a4e" stroke-width="1.05"/>
<polygon points="266.7,322.79999999999995 271.3,327.4 266.7,332.0 262.09999999999997,327.4" fill="#d8f5f5" stroke="#123f42" stroke-width="1.05"/>
<text x="273.00" y="332.80" font-size="13" fill="#141414" stroke="#141414" stroke-width="0.15">Donkalnis</text>
<polygon points="319.1,240.1 323.70000000000005,244.7 319.1,249.29999999999998 314.5,244.7" fill="#d8f5f5" stroke="#123f42" stroke-width="1.05"/>
<text x="325.80" y="248.75" font-size="13" fill="#141414" stroke="#141414" stroke-width="0.15">Kivisaare</text>
<circle cx="455.7" cy="232.9" r="4.2" fill="#f5f077" stroke="#3a3712" stroke-width="1.05"/>
<text x="461.70" y="236.30" font-size="13" fill="#141414" stroke="#141414" stroke-width="0.15">Kunila</text>
<polygon points="497.9,252.50000000000003 502.5,257.1 497.9,261.70000000000005 493.29999999999995,257.1" fill="#d8f5f5" stroke="#123f42" stroke-width="1.05"/>
<text x="502.00" y="261.50" font-size="13" fill="#141414" stroke="#141414" stroke-width="0.15">Veibri</text>
<polygon points="501.1,274.0 505.70000000000005,278.6 501.1,283.20000000000005 496.5,278.6" fill="#f07af0" stroke="#3e1242" stroke-width="1.05"/>
<text x="507.70" y="282.70" font-size="13" fill="#141414" stroke="#141414" stroke-width="0.15">Tamula</text>
<polygon points="368.3,281.8 375.8,286.2 368.3,290.59999999999997" fill="#e0aa1a" stroke="#3e2e04" stroke-width="1.05"/>
<text x="377.40" y="291.40" font-size="13" fill="#141414" stroke="#141414" stroke-width="0.15">Kivutkalns</text>
<circle cx="459.4" cy="302.9" r="4.2" fill="#f5f077" stroke="#3a3712" stroke-width="1.05"/>
<text x="464.70" y="307.00" font-size="13" fill="#141414" stroke="#141414" stroke-width="0.15">Gyvakarai</text>
<polygon points="488,322.0 492.6,326.6 488,331.20000000000005 483.4,326.6" fill="#d8f5f5" stroke="#123f42" stroke-width="1.05"/>
<text x="495.10" y="331.20" font-size="13" fill="#141414" stroke="#141414" stroke-width="0.15">Kretuonas</text>
<circle cx="439.8" cy="353.7" r="4.2" fill="#f5f077" stroke="#3a3712" stroke-width="1.05"/>
<text x="445.90" y="357.70" font-size="13" fill="#141414" stroke="#141414" stroke-width="0.15">Plinkaigalis</text>
<polygon points="307.6,356.6 315.2,361 307.6,365.4" fill="#e0aa1a" stroke="#3e2e04" stroke-width="1.05"/>
<text x="317.50" y="365.50" font-size="13" fill="#141414" stroke="#141414" stroke-width="0.15">Turlojiske</text>
<polygon points="563.5,176.20000000000002 568.1,180.8 563.5,185.4 558.9,180.8" fill="#6a2c9a" stroke="#2a0d40" stroke-width="1.05"/>
<text x="569.00" y="185.70" font-size="13" fill="#141414" stroke="#141414" stroke-width="0.15">Yuzhnyy Oleni Ostrov</text>
<polygon points="641.2,221.8 645.8000000000001,226.4 641.2,231.0 636.6,226.4" fill="#6a2c9a" stroke="#2a0d40" stroke-width="1.05"/>
<text x="648.60" y="230.70" font-size="13" fill="#141414" stroke="#141414" stroke-width="0.15">Popovo</text>
<line x1="35.50" y1="402" x2="35.50" y2="608" stroke="#808080" stroke-width="1.25" stroke-dasharray="1.25 1.6"/>
<line x1="120.62" y1="402" x2="120.62" y2="608" stroke="#808080" stroke-width="1.25" stroke-dasharray="1.25 1.6"/>
<line x1="205.74" y1="402" x2="205.74" y2="608" stroke="#808080" stroke-width="1.25" stroke-dasharray="1.25 1.6"/>
<line x1="290.86" y1="402" x2="290.86" y2="608" stroke="#808080" stroke-width="1.25" stroke-dasharray="1.25 1.6"/>
<line x1="375.98" y1="402" x2="375.98" y2="608" stroke="#808080" stroke-width="1.25" stroke-dasharray="1.25 1.6"/>
<line x1="461.10" y1="402" x2="461.10" y2="608" stroke="#808080" stroke-width="1.25" stroke-dasharray="1.25 1.6"/>
<line x1="546.22" y1="402" x2="546.22" y2="608" stroke="#808080" stroke-width="1.25" stroke-dasharray="1.25 1.6"/>
<line x1="631.34" y1="402" x2="631.34" y2="608" stroke="#808080" stroke-width="1.25" stroke-dasharray="1.25 1.6"/>
<line x1="716.46" y1="402" x2="716.46" y2="608" stroke="#808080" stroke-width="1.25" stroke-dasharray="1.25 1.6"/>
<rect x="78" y="409.50" width="211.60" height="16.8" fill="#aaaaaa"/>
<rect x="168" y="432.20" width="59.80" height="16.8" fill="#aaaaaa"/>
<rect x="229.3" y="454.80" width="13.50" height="16.8" fill="#aaaaaa"/>
<rect x="252" y="477.20" width="139.20" height="16.8" fill="#aaaaaa"/>
<rect x="381" y="499.70" width="24.70" height="16.8" fill="#aaaaaa"/>
<rect x="393" y="522.40" width="37.50" height="16.8" fill="#aaaaaa"/>
<rect x="439.3" y="544.60" width="128.30" height="16.8" fill="#aaaaaa"/>
<rect x="497.5" y="567.10" width="36.60" height="16.8" fill="#aaaaaa"/>
<rect x="611.9" y="589.10" width="85.10" height="16.8" fill="#aaaaaa"/>
<rect x="34" y="607.9" width="683.5" height="2.9" fill="#000"/>
<rect x="34.20" y="607.9" width="2.6" height="5.8" fill="#000"/>
<rect x="119.32" y="607.9" width="2.6" height="5.8" fill="#000"/>
<rect x="204.44" y="607.9" width="2.6" height="5.8" fill="#000"/>
<rect x="289.56" y="607.9" width="2.6" height="5.8" fill="#000"/>
<rect x="374.68" y="607.9" width="2.6" height="5.8" fill="#000"/>
<rect x="459.80" y="607.9" width="2.6" height="5.8" fill="#000"/>
<rect x="544.92" y="607.9" width="2.6" height="5.8" fill="#000"/>
<rect x="630.04" y="607.9" width="2.6" height="5.8" fill="#000"/>
<rect x="715.16" y="607.9" width="2.6" height="5.8" fill="#000"/>
<text x="33.50" y="629.60" font-size="13" fill="#141414" stroke="#141414" stroke-width="0.15" text-anchor="middle">8000</text>
<text x="118.62" y="629.60" font-size="13" fill="#141414" stroke="#141414" stroke-width="0.15" text-anchor="middle">7000</text>
<text x="203.74" y="629.60" font-size="13" fill="#141414" stroke="#141414" stroke-width="0.15" text-anchor="middle">6000</text>
<text x="288.86" y="629.60" font-size="13" fill="#141414" stroke="#141414" stroke-width="0.15" text-anchor="middle">5000</text>
<text x="373.98" y="629.60" font-size="13" fill="#141414" stroke="#141414" stroke-width="0.15" text-anchor="middle">4000</text>
<text x="459.10" y="629.60" font-size="13" fill="#141414" stroke="#141414" stroke-width="0.15" text-anchor="middle">3000</text>
<text x="544.22" y="629.60" font-size="13" fill="#141414" stroke="#141414" stroke-width="0.15" text-anchor="middle">2000</text>
<text x="629.34" y="629.60" font-size="13" fill="#141414" stroke="#141414" stroke-width="0.15" text-anchor="middle">1000</text>
<text x="717.40" y="629.60" font-size="13" fill="#141414" stroke="#141414" stroke-width="0.15" text-anchor="middle">BCE</text>
<polygon points="32.05,412.84999999999997 36.849999999999994,417.65 32.05,422.45 27.249999999999996,417.65" fill="#6a2c9a" stroke="#2a0d40" stroke-width="1.05"/>
<text x="41.30" y="422.30" font-size="13" fill="#141414" stroke="#141414" stroke-width="0.15">EHG</text>
<polygon points="50.4,435.3 55.199999999999996,440.1 50.4,444.90000000000003 45.6,440.1" fill="#30dfe6" stroke="#0b4a4e" stroke-width="1.05"/>
<text x="59.00" y="445.00" font-size="13" fill="#141414" stroke="#141414" stroke-width="0.15">Baltic Mesolithic</text>
<polygon points="185.75,459.2 190.55,464.0 185.75,468.8 180.95,464.0" fill="#d98ddc" stroke="#3e1242" stroke-width="1.05"/>
<text x="194.60" y="468.80" font-size="13" fill="#141414" stroke="#141414" stroke-width="0.15">SHG</text>
<polygon points="124.25,481.2 129.05,486.0 124.25,490.8 119.45,486.0" fill="#d8f5f5" stroke="#123f42" stroke-width="1.05"/>
<text x="133.20" y="490.10" font-size="13" fill="#141414" stroke="#141414" stroke-width="0.15">Baltic EMN Narva</text>
<polygon points="243.2,504.1 248.0,511.9 238.39999999999998,511.9" fill="#e4561e" stroke="#4a1604" stroke-width="1.05"/>
<text x="253.70" y="513.60" font-size="13" fill="#141414" stroke="#141414" stroke-width="0.15">Early Neolithic TRB</text>
<polygon points="284.1,528.0 288.90000000000003,532.8 284.1,537.5999999999999 279.3,532.8" fill="#d98ddc" stroke="#3e1242" stroke-width="1.05"/>
<text x="293.20" y="536.60" font-size="13" fill="#141414" stroke="#141414" stroke-width="0.15">Baltic MN CCC</text>
<circle cx="370" cy="555.4" r="4.6" fill="#f5f077" stroke="#3a3712" stroke-width="1.05"/>
<text x="378.20" y="559.10" font-size="13" fill="#141414" stroke="#141414" stroke-width="0.15">Baltic LN</text>
<circle cx="366" cy="576.6" r="4.6" fill="#1c5a9a" stroke="#0b2a4a" stroke-width="1.05"/>
<text x="374.20" y="581.40" font-size="13" fill="#141414" stroke="#141414" stroke-width="0.15">Scandinavia LNBA</text>
<polygon points="481.2,593.3 490.59999999999997,598.5 481.2,603.7" fill="#e0aa1a" stroke="#3e2e04" stroke-width="1.05"/>
<text x="495.40" y="602.60" font-size="13" fill="#141414" stroke="#141414" stroke-width="0.15">Baltic Bronze Age</text>
</svg></body></html>
